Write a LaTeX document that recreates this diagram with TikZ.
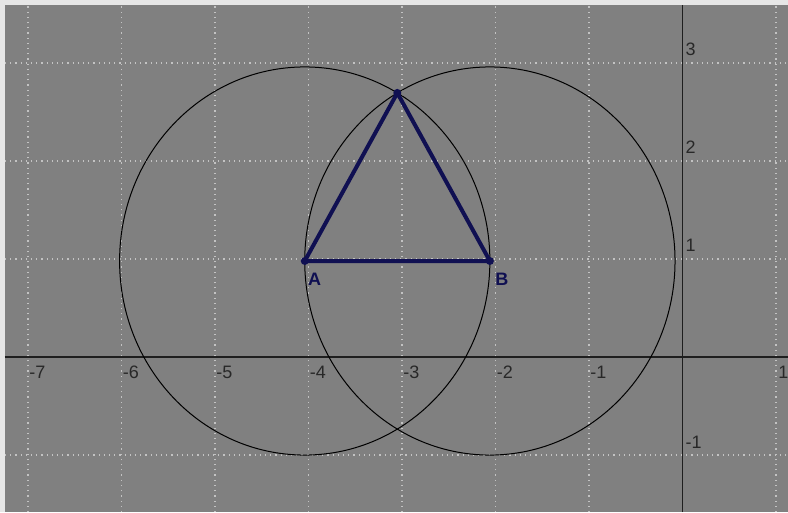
\documentclass[tikz,border=0pt]{standalone}
\usepackage{fontspec}
\setmainfont{Liberation Sans}
\usetikzlibrary{positioning}
\definecolor{framegray}{RGB}{230,230,230}
\definecolor{bggray}{RGB}{128,128,128}
\definecolor{gridgray}{RGB}{195,195,195}
\definecolor{axisdark}{RGB}{30,30,30}
\definecolor{ticktext}{RGB}{40,40,40}
\definecolor{navy}{RGB}{16,16,82}

\begin{document}
\begin{tikzpicture}[x=46.75pt, y=49pt, every node/.style={font=\fontsize{9}{10}\selectfont, inner sep=0pt},
	gridline/.style={gridgray, line width=0.6pt, dotted},
	axisline/.style={axisdark, line width=0.6pt},
	circline/.style={black, line width=0.5pt},
	sideline/.style={navy, line width=2pt, line join=round},
	ticklabel/.style={ticktext},
	ptlabel/.style={navy, font=\fontsize{9}{10}\selectfont\bfseries}]
	\useasboundingbox (-7.299,-1.582) rectangle (1.128,3.643);
	\fill[framegray] (-7.299,-1.582) rectangle (1.128,3.643);
	\fill[bggray] (-7.246,-1.582) rectangle (1.128,3.592);
	\begin{scope}
	\clip (-7.246,-1.582) rectangle (1.128,3.592);
	% grid and axes
	\foreach \x in {-7,...,1} {\draw[gridline] (\x,-1.582) -- (\x,3.592);}
	\foreach \y in {-1,...,3} {\draw[gridline] (-7.246,\y) -- (1.128,\y);}
	\draw[axisline] (-7.246,0) -- (1.128,0);
	\draw[axisline] (0,-1.582) -- (0,3.592);
	\foreach \x in {-7,...,-1} {\node[ticklabel, anchor=north west] (xl\x) at (\x+0.01,-0.085) {\x};}
	\node[ticklabel, anchor=north west] (xl1) at (1.02,-0.085) {1};
	\foreach \y in {1,2,3} {\node[ticklabel, anchor=south west] (yl\y) at (0.03,\y+0.07) {\y};}
	\node[ticklabel, anchor=south west] (yl-1) at (0.03,-0.94) {-1};
	% points and circles
	\coordinate (A) at (-4.04,0.98);
	\coordinate (B) at (-2.06,0.98);
	\coordinate (C) at (-3.05,2.695);
	\draw[circline] (A) circle (1.98);
	\draw[circline] (B) circle (1.98);
	\draw[sideline] (A) -- (B) -- (C) -- cycle;
	\foreach \p in {A,B,C} {\fill[navy] (\p) circle (2pt);}
	\node[ptlabel, anchor=north west] (labA) at ([xshift=1.5pt,yshift=-6pt]A) {A};
	\node[ptlabel, anchor=north west] (labB) at ([xshift=2.5pt,yshift=-6pt]B) {B};
	\end{scope}
\end{tikzpicture}
\end{document}
